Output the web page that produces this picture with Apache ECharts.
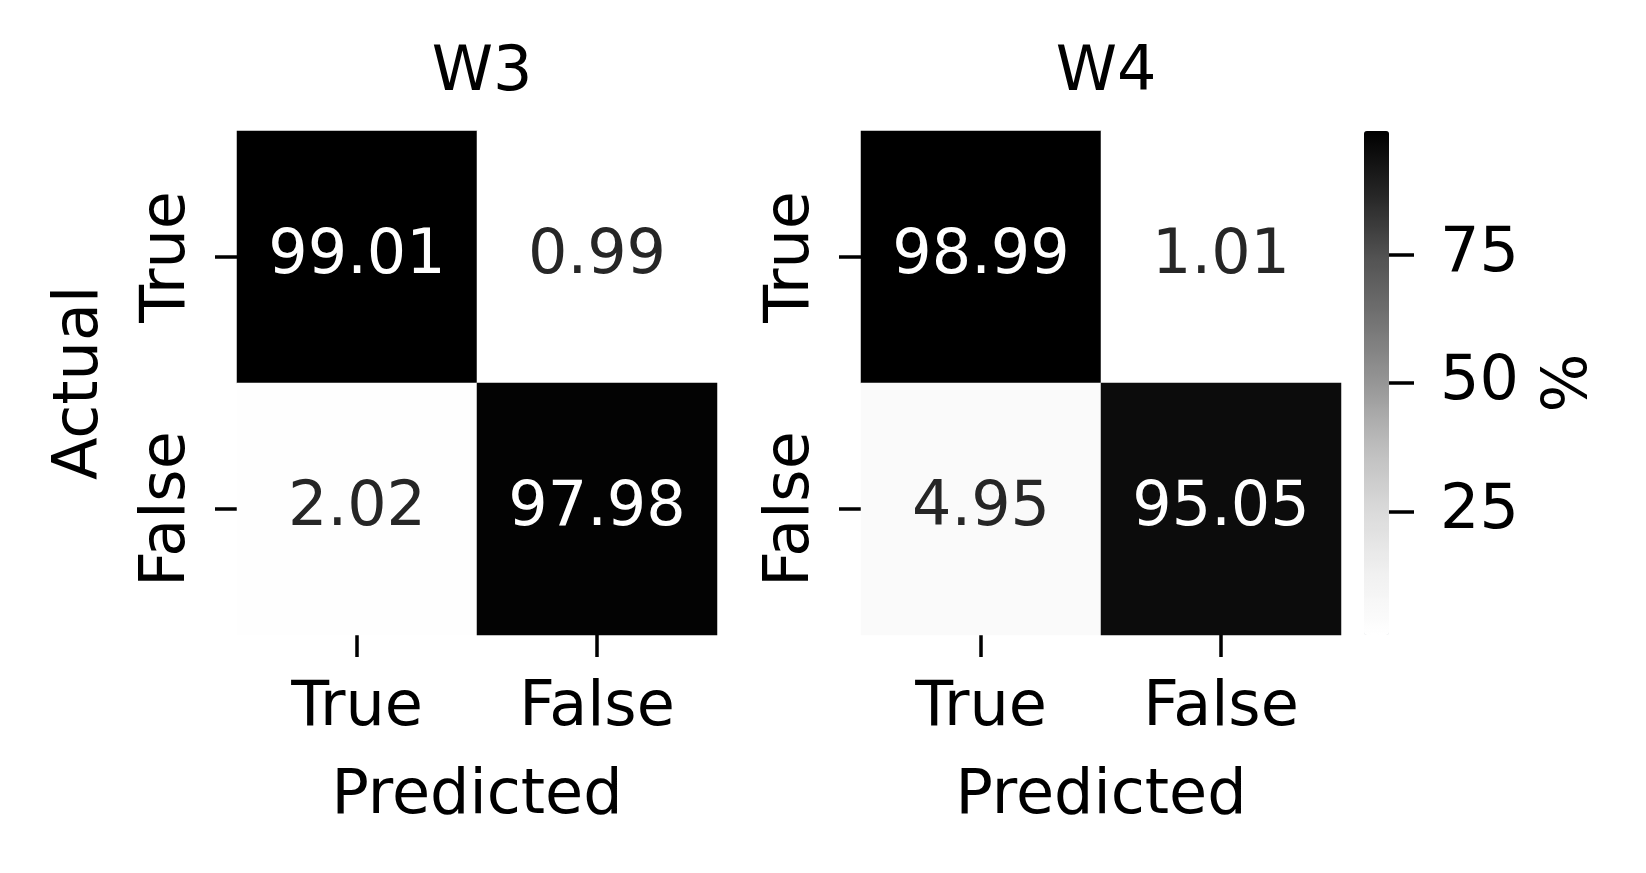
<!DOCTYPE html>
<html>
<head>
<meta charset="utf-8">
<script src="https://cdn.jsdelivr.net/npm/echarts@6/dist/echarts.min.js"></script>
<style>
html,body{margin:0;padding:0;background:#fff;}
#chart{width:1646px;height:873px;}
</style>
</head>
<body>
<div id="chart"></div>
<script>
// ---- data ----
const predictedLabels = ['True', 'False'];
const actualLabels = ['True', 'False'];
const panelTitles = ['W3', 'W4'];
// rows = actual (True, False), cols = predicted (True, False)
const w3Values = [[99.01, 0.99], [2.02, 97.98]];
const w4Values = [[98.99, 1.01], [4.95, 95.05]];
const colorbarTicks = [25, 50, 75];
const colorMin = 0.99;
const colorMax = 99.01;

const greys = ['#ffffff','#f0f0f0','#d9d9d9','#bdbdbd','#969696','#737373','#525252','#252525','#000000'];
const FONT = 'DejaVu Sans';
const FS = 62;

function buildData(mat) {
  const out = [];
  for (let r = 0; r < mat.length; r++) {
    for (let c = 0; c < mat[r].length; c++) {
      const v = mat[r][c];
      out.push({
        value: [c, r, v],
        label: { color: v > 50 ? '#ffffff' : '#262626' }
      });
    }
  }
  return out;
}

const grids = [
  { left: 237, top: 131, width: 480, height: 504 },
  { left: 861, top: 131, width: 480, height: 504 },
  { left: 1389, top: 131, width: 25, height: 504 }
];

function catX(i) {
  return {
    type: 'category', gridIndex: i, data: predictedLabels,
    axisLine: { show: false },
    axisTick: { show: true, alignWithLabel: true, length: 22, lineStyle: { color: '#000', width: 3.5 } },
    axisLabel: { fontSize: FS, fontFamily: FONT, color: '#000', margin: 43 },
    splitLine: { show: false },
    name: 'Predicted', nameLocation: 'middle', nameGap: 131,
    nameTextStyle: { fontSize: FS, fontFamily: FONT, color: '#000' }
  };
}
function catY(i, showName) {
  return {
    type: 'category', gridIndex: i, data: actualLabels, inverse: true,
    axisLine: { show: false },
    axisTick: { show: true, alignWithLabel: true, length: 22, lineStyle: { color: '#000', width: 3.5 } },
    axisLabel: { fontSize: FS, fontFamily: FONT, color: '#000', margin: 38, rotate: 90 },
    splitLine: { show: false },
    name: showName ? 'Actual' : '', nameLocation: 'middle', nameGap: 125, nameRotate: 90,
    nameTextStyle: { fontSize: FS, fontFamily: FONT, color: '#000' }
  };
}

const option = {
  backgroundColor: '#ffffff',
  animation: false,
  textStyle: { fontFamily: FONT },
  title: [
    { text: panelTitles[0], left: 477, top: 38, textAlign: 'center',
      textStyle: { fontSize: FS, fontFamily: FONT, fontWeight: 'normal', color: '#000' } },
    { text: panelTitles[1], left: 1101, top: 38, textAlign: 'center',
      textStyle: { fontSize: FS, fontFamily: FONT, fontWeight: 'normal', color: '#000' } }
  ],
  grid: grids,
  xAxis: [
    catX(0), catX(1),
    { type: 'value', gridIndex: 2, show: false, min: 0, max: 1 }
  ],
  yAxis: [
    catY(0, true), catY(1, false),
    {
      type: 'value', gridIndex: 2, position: 'right', min: colorMin, max: colorMax,
      axisLine: { show: true, lineStyle: { color: 'rgba(0,0,0,0)', width: 0 } },
      splitLine: { show: false },
      axisTick: { show: true, inside: false, customValues: colorbarTicks, length: 25, lineStyle: { color: '#000000', width: 3.5 } },
      axisLabel: { show: true, customValues: colorbarTicks, fontSize: FS, fontFamily: FONT, color: '#000', margin: 26 },
      name: '%', nameLocation: 'middle', nameGap: 125, nameRotate: 90,
      nameTextStyle: { fontSize: FS, fontFamily: FONT, color: '#000' },
      z: 10
    }
  ],
  visualMap: {
    type: 'continuous',
    seriesIndex: [0, 1],
    dimension: 2,
    min: colorMin, max: colorMax,
    calculable: false,
    show: true,
    orient: 'vertical',
    left: 1364, top: 131,
    itemWidth: 25, itemHeight: 504,
    padding: 0,
    text: null,
    showLabel: false,
    inRange: { color: greys },
    z: 1
  },
  series: [
    {
      type: 'heatmap', xAxisIndex: 0, yAxisIndex: 0,
      data: buildData(w3Values),
      label: { show: true, fontSize: FS, fontFamily: FONT,
        formatter: p => p.value[2].toFixed(2) },
      itemStyle: { borderWidth: 0 },
      emphasis: { disabled: true }
    },
    {
      type: 'heatmap', xAxisIndex: 1, yAxisIndex: 1,
      data: buildData(w4Values),
      label: { show: true, fontSize: FS, fontFamily: FONT,
        formatter: p => p.value[2].toFixed(2) },
      itemStyle: { borderWidth: 0 },
      emphasis: { disabled: true }
    },
    {
      type: 'scatter', xAxisIndex: 2, yAxisIndex: 2, data: [], silent: true
    }
  ]
};

const chart = echarts.init(document.getElementById('chart'), null, { renderer: 'canvas' });
chart.setOption(option);
</script>
</body>
</html>
